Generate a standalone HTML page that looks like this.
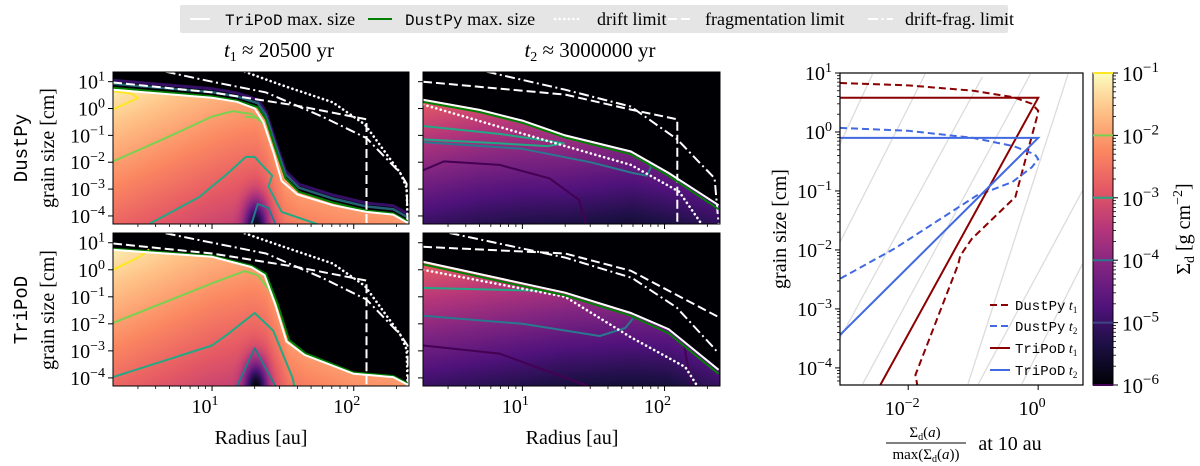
<!DOCTYPE html>
<html><head><meta charset="utf-8">
<style>
body{margin:0;background:#fff;width:1200px;height:466px;overflow:hidden;position:relative;font-family:"Liberation Serif",serif}
canvas{position:absolute}
svg{position:absolute;left:0;top:0}
</style></head><body>
<canvas id="c0" style="left:113px;top:72px" width="296" height="152"></canvas>
<canvas id="c1" style="left:423px;top:72px" width="297" height="152"></canvas>
<canvas id="c2" style="left:113px;top:233px" width="296" height="153"></canvas>
<canvas id="c3" style="left:423px;top:233px" width="297" height="153"></canvas>
<svg id="s" width="1200" height="466" font-family="Liberation Serif, serif"></svg>
<script>
// ---------- data (r [au], log10 a [cm]) ----------
const p1Dust=[[2,.77],[10,.46],[15,.3],[21,.05],[24,-.4],[28,-1.5],[33,-2.6],[41,-3.1],[71,-3.5],[123,-3.8],[190,-3.9],[240,-4.2]];
const p1Tri=[[2,.7],[10,.4],[15,.25],[20,0],[23,-.5],[27,-1.6],[31,-2.7],[40,-3.2],[71,-3.6],[123,-3.85],[190,-3.95],[240,-4.25]];
const p1Drift=[[17,1.37],[30,.9],[71,.23],[120,-.6],[213,-2.4],[236,-2.95],[240,-4.3]];
const p1Frag=[[2,.97],[10,.6],[40,.1],[123,-.4],[123,-4.3]];
const p1DF=[[4.7,1.37],[10,1.0],[24,.6],[60,-.3],[123,-1.1],[213,-2.4],[236,-2.8],[240,-4.3]];
const p1C1=[[2,-.03],[2.5,.2],[3,.4],[2.7,.55],[2,.65]];
const p1C2=[[2,-1.97],[4.7,-1.1],[10,-.3],[14,-.1],[19,-.2],[23,-.55],[21,-.35],[17,-.3]];
const p1C3=[[3.6,-4.3],[8.1,-3.3],[13,-2.4],[17.3,-1.8],[20,-1.8],[22.5,-2.1],[26.6,-2.5],[25,-2.9],[31,-3.85],[55,-4.3]];
const p1C4=[[19,-4.3],[21,-3.55],[25,-3.7],[28,-4.3]];

const p2Tri=[[2,.33],[5,-.05],[10,-.45],[20,-1.0],[58,-1.6],[107,-2.4],[240,-3.6]];
const p2Dust=[[2,.25],[5,-.13],[10,-.53],[20,-1.08],[58,-1.7],[107,-2.5],[240,-3.75]];
const p2Drift=[[2,.15],[20,-1.4],[58,-2.1],[127,-3.1],[182,-4.3]];
const p2Frag=[[2,1.0],[20,.52],[58,-.04],[123,-.4],[123,-4.3]];
const p2DF=[[5.6,1.37],[20,.7],[58,.07],[123,-1.15],[225,-2.6],[240,-4.3]];
const p2C1=[[2,-.65],[7,-.95],[15,-1.2],[19.5,-1.3],[15,-1.4],[7,-1.3],[2,-1.15]];
const p2C2=[[2,-1.25],[10,-1.5],[30,-2.0],[60,-2.4],[75,-2.5],[80,-2.2],[78,-1.95]];
const p2C3=[[2,-2.3],[2.8,-1.97],[6.9,-2.1],[15.5,-2.6],[25,-3.4],[28,-4.3]];

const p3Dust=[[2,.78],[10,.52],[19,.15],[24,-.15],[29,-1.26],[35,-2.6],[46,-3.1],[100,-3.8],[190,-3.93],[240,-4.2]];
const p3Tri=[[2,.74],[10,.48],[19,.1],[23.5,-.2],[28,-1.3],[33.5,-2.65],[45,-3.15],[100,-3.85],[190,-3.97],[240,-4.25]];
const p3Drift=[[17,1.35],[30,.9],[71,.23],[120,-.6],[213,-2.4],[236,-2.95],[240,-4.3]];
const p3Frag=[[2,.97],[10,.6],[40,.1],[123,-.4],[123,-4.3]];
const p3DF=[[4.7,1.35],[10,1.0],[24,.6],[60,-.3],[123,-1.1],[213,-2.4],[240,-2.8],[242,-4.3]];
const p3C1=[[2,0],[3,.45],[3.6,.75]];
const p3C2=[[2,-1.97],[10,-.5],[17,-.05],[21,-.2],[25,-.7],[29,-1.4]];
const p3C3=[[2,-3.97],[10,-2.8],[13,-2.37],[20,-1.6],[27,-2.25],[37,-4.0],[38,-4.3]];
const p3C4=[[15,-4.3],[20,-2.9],[28,-4.3]];

const p4Tri=[[2,.3],[20,-.85],[58,-1.6],[107,-2.2],[240,-3.7]];
const p4Dust=[[2,.2],[20,-.95],[58,-1.7],[107,-2.35],[240,-3.85]];
const p4Drift=[[2,0],[20,-1.0],[58,-2.5],[140,-3.6],[170,-4.3]];
const p4Frag=[[2,.85],[20,.6],[58,-.04],[240,-1.75]];
const p4DF=[[3.07,1.36],[20,.45],[59,-.3],[122,-1.4],[223,-2.9],[240,-3.1]];
const p4C1=[[2,-.67],[14,-.78]];
const p4C2=[[2,-1.7],[10,-2.0],[35,-2.45],[53,-2.15],[60,-1.8]];
const p4C3=[[2,-2.8],[6.9,-3.1],[29,-4.3]];
const p4C4=[[138,-2.85],[155,-4.3]];

// right panel (log10 fraction, log10 a)
const rDustT1=[[-3.05,.83],[-2,.79],[-1,.7],[-.38,.59],[-.1,.48],[0,.36],[-.02,.25],[-.35,-1.1],[-1.02,-1.81],[-1.2,-2.1],[-1.23,-2.24],[-1.89,-4.12],[-1.86,-4.29]];
const rDustT2=[[-3.05,.07],[-2,.02],[-1,-.1],[-.38,-.24],[-.05,-.38],[0,-.46],[-.1,-.6],[-.4,-.85],[-.95,-1.08],[-2.2,-1.97],[-3.05,-2.49]];
const rTriT1=[[-3.05,.58],[0,.58],[-2.43,-4.29]];
const rTriT2=[[-3.05,-.1],[0,-.1],[-3.05,-3.44]];
const rGrid=[[-3.12,-.37,-2.55,.98],[-3.12,-2.02,-1.74,.98],[-3.12,-3.64,-.86,.93],[-2.7,-4.27,-.12,.98],[-1.08,-4.27,.46,.98],[-.92,-4.27,.68,-1.0],[-.25,-4.27,.68,-2.24]];

const yTicks=[1,0,-1,-2,-3,-4];
const xTicksMajor=[1,2];
const xMinor=[3,4,5,6,7,8,9,20,30,40,50,60,70,80,90,200];
const cbTicks=[-1,-2,-3,-4,-5,-6];
const cbColors=['#fde725','#7ad151','#22a884','#2a788e','#414487','#440154'];

// ---------- axes ----------
const R0=Math.log10(2),R1=2.39,A0=-4.3,A1=1.36;
const P=[{x:113,y:72,w:296,h:152},{x:423,y:72,w:297,h:152},{x:113,y:233,w:296,h:153},{x:423,y:233,w:297,h:153}];
const px=(p,r)=>p.x+(Math.log10(r)-R0)/(R1-R0)*p.w;
const py=(p,la)=>p.y+(A1-la)/(A1-A0)*p.h;
const RX0=-3.05,RX1=0.69,RY0=-4.29,RY1=1.0;
const RP={x:840,y:73,w:243,h:312};
const rx=v=>RP.x+(v-RX0)/(RX1-RX0)*RP.w;
const ry=v=>RP.y+(RY1-v)/(RY1-RY0)*RP.h;

const S=document.getElementById('s');const NS='http://www.w3.org/2000/svg';
function el(tag,attrs,parent){const e=document.createElementNS(NS,tag);for(const k in attrs)e.setAttribute(k,attrs[k]);(parent||S).appendChild(e);return e;}

// magma
const MAG=[[0,0,0,4],[.13,28,16,68],[.25,79,18,123],[.38,129,37,129],[.5,181,54,122],[.63,229,89,100],[.75,251,135,97],[.88,254,194,135],[1,252,253,191]];
function magma(t){t=Math.max(0,Math.min(1,t));for(let i=1;i<MAG.length;i++){if(t<=MAG[i][0]){const a=MAG[i-1],b=MAG[i],f=(t-a[0])/(b[0]-a[0]);return [a[1]+f*(b[1]-a[1]),a[2]+f*(b[2]-a[2]),a[3]+f*(b[3]-a[3])];}}return [252,253,191];}
function interp(arr,r){const l=Math.log10(r);for(let i=1;i<arr.length;i++){const l0=Math.log10(arr[i-1][0]),l1=Math.log10(arr[i][0]);if(l<=l1){const f=l1===l0?0:(l-l0)/(l1-l0);return arr[i-1][1]+f*(arr[i][1]-arr[i-1][1]);}}return arr[arr.length-1][1];}

function heat(id,p,maxArr,mode,blob){
 const c=document.getElementById(id),ctx=c.getContext('2d'),im=ctx.createImageData(c.width,c.height);
 for(let i=0;i<c.width;i++){const lr=R0+(i+.5)/p.w*(R1-R0),r=Math.pow(10,lr),am=interp(maxArr,r);
  for(let j=0;j<c.height;j++){const la=A1-(j+.5)/p.h*(A1-A0);let col=[0,0,4];
   if(la<=am){let v;
    if(mode===1){v=-1.15-0.85*Math.min(lr-R0,1.0)-0.3*(am-la)-blob*Math.exp(-Math.pow((lr-1.31)/0.08,2)-Math.pow((la+4.4)/1.0,2));}
    else{v=-2.8-0.95*(lr-R0)-0.48*(am-la);}
    col=magma((v+6)/5);}
   const k=(j*c.width+i)*4;im.data[k]=col[0];im.data[k+1]=col[1];im.data[k+2]=col[2];im.data[k+3]=255;}}
 ctx.putImageData(im,0,0);}
heat('c0',P[0],p1Dust,1,2.4);heat('c1',P[1],p2Tri,2,0);heat('c2',P[2],p3Dust,1,2.6);heat('c3',P[3],p4Tri,2,0);

// defs clips
const defs=el('defs',{});
P.forEach((p,i)=>{const cp=el('clipPath',{id:'cl'+i},defs);el('rect',{x:p.x,y:p.y,width:p.w,height:p.h},cp);});
const cpr=el('clipPath',{id:'clr'},defs);el('rect',{x:RP.x,y:RP.y,width:RP.w,height:RP.h},cpr);

function curve(pi,arr,style,name,dy){const p=P[pi];const d=arr.map((q,i)=>(i?'L':'M')+px(p,q[0]).toFixed(1)+','+py(p,q[1]+(dy||0)).toFixed(1)).join('');
 const e=el('path',Object.assign({d:d,fill:'none','clip-path':'url(#cl'+pi+')'},style));
 
 return e;}
const stWhite={stroke:'#fff','stroke-width':2};
const stGreen={stroke:'#008000','stroke-width':2};
const stDot={stroke:'#fff','stroke-width':2.6,'stroke-dasharray':'0.1 4.5','stroke-linecap':'round'};
const stDash={stroke:'#fff','stroke-width':2,'stroke-dasharray':'9 4'};
const stDD={stroke:'#fff','stroke-width':2,'stroke-dasharray':'10 3.5 2 3.5'};
const cst=c=>({stroke:c,'stroke-width':2,'stroke-linejoin':'round'});

const sets=[
 {pi:0,tri:p1Tri,dust:p1Dust,drift:p1Drift,frag:p1Frag,df:p1DF,cs:[[p1C1,'#fde725'],[p1C2,'#7ad151'],[p1C3,'#22a884'],[p1C4,'#2a788e']],fringe:true},
 {pi:1,tri:p2Tri,dust:p2Dust,drift:p2Drift,frag:p2Frag,df:p2DF,cs:[[p2C1,'#22a884'],[p2C2,'#2a788e'],[p2C3,'#440154']],fringe:false},
 {pi:2,tri:p3Tri,dust:p3Dust,drift:p3Drift,frag:p3Frag,df:p3DF,cs:[[p3C1,'#fde725'],[p3C2,'#7ad151'],[p3C3,'#22a884'],[p3C4,'#2a788e']],fringe:false},
 {pi:3,tri:p4Tri,dust:p4Dust,drift:p4Drift,frag:p4Frag,df:p4DF,cs:[[p4C1,'#22a884'],[p4C2,'#2a788e'],[p4C3,'#440154'],[p4C4,'#440154']],fringe:false}];
sets.forEach(s=>{
 s.cs.forEach((c,k)=>curve(s.pi,c[0],cst(c[1]),'contour-'+k));
 if(s.fringe){curve(s.pi,s.dust,{stroke:'#3b0f70','stroke-width':3,opacity:.9},'edge-fringe',0.28);curve(s.pi,s.dust,{stroke:'#2a788e','stroke-width':2.5,opacity:.8},'edge-fringe',0.15);}
 curve(s.pi,s.frag,stDash,'fragmentation-limit');
 curve(s.pi,s.df,stDD,'drift-frag-limit');
 curve(s.pi,s.drift,stDot,'drift-limit');
 curve(s.pi,s.dust,stGreen,'dustpy-max-size');
 curve(s.pi,s.tri,stWhite,'tripod-max-size');
});

// axes frames & ticks
function sup(parent,x,y,base,exp,anchor,size){size=size||20;const t=el('text',{x:x,y:y,'text-anchor':anchor||'end','font-size':size,fill:'#000'},parent);t.textContent=base;const s=el('tspan',{dy:-Math.round(size*0.42),'font-size':Math.round(size*0.7)},t);s.textContent=exp;return t;}
P.forEach((p,i)=>{
 const g=el('g',{});
 
 
 el('rect',{x:p.x,y:p.y,width:p.w,height:p.h,fill:'none',stroke:'#000','stroke-width':1},g);
 yTicks.forEach(v=>{const y=py(p,v);el('line',{x1:p.x-5,x2:p.x,y1:y,y2:y,stroke:'#000','stroke-width':1},g);
  if(p.x<200){const t=sup(g,p.x-8,y+7,'10',(v<0?'\u2212'+(-v):''+v));}});
 xTicksMajor.forEach(v=>{const x=px(p,Math.pow(10,v));el('line',{x1:x,x2:x,y1:p.y+p.h,y2:p.y+p.h+5,stroke:'#000','stroke-width':1},g);
  if(p.y>200){const t=sup(g,x-7,p.y+p.h+27,'10',''+v,'middle');}});
 xMinor.forEach(v=>{const x=px(p,v);el('line',{x1:x,x2:x,y1:p.y+p.h,y2:p.y+p.h+3,stroke:'#000','stroke-width':.8},g);});
});
function txt(x,y,s,attrs,name){const t=el('text',Object.assign({x:x,y:y,'font-size':20,fill:'#000','text-anchor':'middle'},attrs||{}));t.textContent=s;
 
 return t;}
// titles
const t1=txt(279,57,'',{'font-size':21},'title-t1');t1.innerHTML='<tspan font-style="italic">t</tspan><tspan font-size="14" dy="4">1</tspan><tspan dy="-4"> \u2248 20500 yr</tspan>';
const t2=txt(590,57,'',{'font-size':21},'title-t2');t2.innerHTML='<tspan font-style="italic">t</tspan><tspan font-size="14" dy="4">2</tspan><tspan dy="-4"> \u2248 3000000 yr</tspan>';
txt(261,444,'Radius [au]',{},'x-axis-title-left');txt(572,444,'Radius [au]',{},'x-axis-title-mid');
txt(0,0,'DustPy',{transform:'translate(27,148) rotate(-90)','font-family':'Liberation Mono, monospace','font-size':19},'row-label-dustpy');
txt(0,0,'grain size [cm]',{transform:'translate(54,148) rotate(-90)'},'y-axis-title-top');
txt(0,0,'TriPoD',{transform:'translate(27,310) rotate(-90)','font-family':'Liberation Mono, monospace','font-size':19},'row-label-tripod');
txt(0,0,'grain size [cm]',{transform:'translate(54,310) rotate(-90)'},'y-axis-title-bottom');

// right panel
const rg=el('g',{});


rGrid.forEach(l=>{const e=el('line',{x1:rx(l[0]),y1:ry(l[1]),x2:rx(l[2]),y2:ry(l[3]),stroke:'#dcdcdc','stroke-width':1.3,'clip-path':'url(#clr)'},rg);
 
 });
function rline(arr,style,name){const d=arr.map((q,i)=>(i?'L':'M')+rx(q[0]).toFixed(1)+','+ry(q[1]).toFixed(1)).join('');const e=el('path',Object.assign({d:d,fill:'none','clip-path':'url(#clr)','stroke-width':2},style),rg);
 
 }
rline(rDustT1,{stroke:'#8b0000','stroke-dasharray':'7 4'},'dustpy-t1-line');
rline(rDustT2,{stroke:'#4169e1','stroke-dasharray':'7 4'},'dustpy-t2-line');
rline(rTriT1,{stroke:'#8b0000'},'tripod-t1-line');
rline(rTriT2,{stroke:'#4169e1'},'tripod-t2-line');
el('rect',{x:RP.x,y:RP.y,width:RP.w,height:RP.h,fill:'none',stroke:'#000','stroke-width':1.2},rg);
[1,0,-1,-2,-3,-4].forEach(v=>{const y=ry(v);el('line',{x1:RP.x-5,x2:RP.x,y1:y,y2:y,stroke:'#000'},rg);
 const t=sup(rg,RP.x-8,y+7,'10',(v<0?'\u2212'+(-v):''+v));
 for(let m=2;m<10;m++){const yy=ry(v-1+Math.log10(m));if(yy<=RP.y+RP.h)el('line',{x1:RP.x-3,x2:RP.x,y1:yy,y2:yy,stroke:'#000','stroke-width':.8},rg);}});
[-2,0].forEach(v=>{const x=rx(v);el('line',{x1:x,x2:x,y1:RP.y+RP.h,y2:RP.y+RP.h+5,stroke:'#000'},rg);
 const t=sup(rg,x-6,RP.y+RP.h+30,'10',(v<0?'\u2212'+(-v):''+v),'middle');});
txt(0,0,'grain size [cm]',{transform:'translate(786,229) rotate(-90)'},'right-y-axis-title');
const fr=txt(925,437,'',{'font-size':15},'right-x-axis-title-num');fr.innerHTML='\u03A3<tspan font-size="10" dy="3">d</tspan><tspan dy="-3">(<tspan font-style="italic">a</tspan>)</tspan>';
el('line',{x1:886,x2:966,y1:443,y2:443,stroke:'#000','stroke-width':1});
const fd=txt(926,459,'',{'font-size':15},'right-x-axis-title-den');fd.innerHTML='max(\u03A3<tspan font-size="10" dy="3">d</tspan><tspan dy="-3">(<tspan font-style="italic">a</tspan>))</tspan>';
txt(1010,450,'at 10 au',{'font-size':20},'right-x-axis-title-suffix');
// right legend
const leg=[['DustPy','1','#8b0000','7 4',305],['DustPy','2','#4169e1','7 4',326],['TriPoD','1','#8b0000','',348],['TriPoD','2','#4169e1','',370]];
leg.forEach(L=>{const e=el('line',{x1:990,x2:1010,y1:L[4],y2:L[4],stroke:L[2],'stroke-width':2,'stroke-dasharray':L[3]||'none'});
 
 
 const t=txt(1015,L[4]+5,'',{'text-anchor':'start','font-size':14},'legend-entry');
 t.innerHTML='<tspan font-family="Liberation Mono, monospace">'+L[0]+'</tspan><tspan font-style="italic"> t</tspan><tspan font-size="9" dy="3">'+L[1]+'</tspan>';});

// colorbar
const gr=el('linearGradient',{id:'cbg',x1:0,y1:1,x2:0,y2:0},defs);
for(let i=0;i<=16;i++){const c=magma(i/16);el('stop',{offset:i/16,'stop-color':'rgb('+c.map(Math.round).join(',')+')'},gr);}
const cb=el('rect',{x:1093,y:73,width:20,height:312,fill:'url(#cbg)',stroke:'#000','stroke-width':1});


cbTicks.forEach((v,i)=>{const y=385-(v+6)/5*312;
 el('line',{x1:1093,x2:1113,y1:y,y2:y,stroke:cbColors[i],'stroke-width':2});
 el('line',{x1:1113,x2:1118,y1:y,y2:y,stroke:'#000'});
 for(let m=2;m<10;m++){const yy=385-(v-1+Math.log10(m)+6)/5*312;if(yy<385)el('line',{x1:1113,x2:1116,y1:yy,y2:yy,stroke:'#000','stroke-width':.8});}
 const t=sup(S,1122,y+8,'10','\u2212'+(-v),'start',21);});
const cbl=txt(0,0,'',{transform:'translate(1190,229) rotate(-90)'},'colorbar-title');cbl.innerHTML='\u03A3<tspan font-size="14" dy="4">d</tspan><tspan dy="-4"> [g cm</tspan><tspan font-size="14" dy="-8">\u22122</tspan><tspan dy="8">]</tspan>';

// top legend
const lg=el('g',{});


el('rect',{x:180,y:5,width:828,height:28,fill:'#e5e5e5',rx:2},lg);
const items=[[190,210,stWhite,'TriPoD',' max. size',225],[368,392,stGreen,'DustPy',' max. size',405],[555,580,stDot,'','drift limit',597],[668,693,stDash,'','fragmentation limit',705],[868,893,stDD,'','drift-frag. limit',905]];
items.forEach(it=>{const l=el('line',Object.assign({x1:it[0],x2:it[1],y1:19,y2:19},it[2]),lg);
 
 
 const t=el('text',{x:it[5],y:25,'font-size':18,fill:'#000'},lg);
 
 
 t.innerHTML=(it[3]?'<tspan font-family="Liberation Mono, monospace" font-size="16">'+it[3]+'</tspan>':'')+it[4];});
</script>
</body></html>
